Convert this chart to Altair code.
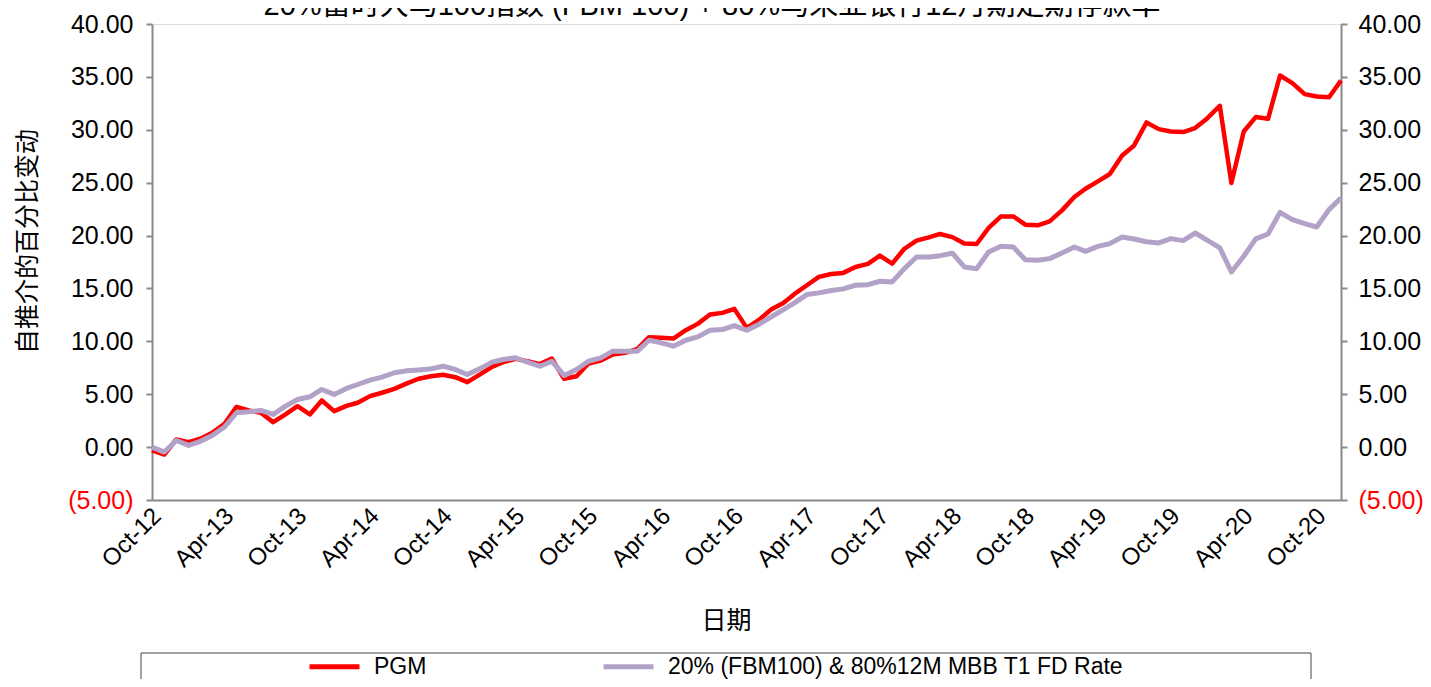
import altair as alt
import pandas as pd

# ---------------- data ----------------
dates = pd.date_range("2012-10-01", periods=99, freq="MS")

pgm = [
    -0.30, -0.70, 0.73, 0.47, 0.82, 1.36, 2.20, 3.80, 3.47, 3.25,
    2.36, 3.09, 3.87, 3.09, 4.41, 3.40, 3.90, 4.19, 4.82, 5.14,
    5.51, 6.00, 6.46, 6.70, 6.84, 6.61, 6.14, 6.86, 7.59, 8.03,
    8.35, 8.12, 7.85, 8.38, 6.46, 6.70, 7.90, 8.19, 8.75, 8.91,
    9.29, 10.39, 10.33, 10.26, 11.05, 11.65, 12.53, 12.69, 13.07, 11.27,
    12.00, 13.00, 13.63, 14.48, 15.30, 16.09, 16.37, 16.47, 17.03, 17.32,
    18.10, 17.35, 18.73, 19.52, 19.83, 20.15, 19.85, 19.24, 19.20, 20.72,
    21.81, 21.81, 21.03, 20.97, 21.34, 22.38, 23.64, 24.43, 25.12, 25.82,
    27.57, 28.52, 30.69, 30.06, 29.84, 29.78, 30.16, 31.10, 32.27, 24.97,
    29.84, 31.20, 31.04, 35.13, 34.41, 33.37, 33.14, 33.08, 34.66,
]

bench = [
    0.00, -0.47, 0.63, 0.16, 0.57, 1.10, 1.90, 3.25, 3.34, 3.47,
    3.09, 3.87, 4.50, 4.76, 5.45, 4.98, 5.55, 5.92, 6.33, 6.61,
    7.03, 7.21, 7.30, 7.40, 7.65, 7.34, 6.86, 7.40, 8.03, 8.28,
    8.44, 8.03, 7.65, 8.12, 6.77, 7.34, 8.12, 8.44, 9.07, 9.07,
    9.07, 10.10, 9.86, 9.54, 10.10, 10.42, 11.05, 11.11, 11.49, 11.05,
    11.60, 12.30, 13.00, 13.63, 14.42, 14.58, 14.80, 14.96, 15.30, 15.36,
    15.68, 15.62, 16.85, 17.98, 17.98, 18.10, 18.33, 17.03, 16.87, 18.45,
    18.98, 18.92, 17.72, 17.66, 17.82, 18.36, 18.92, 18.51, 18.98, 19.24,
    19.87, 19.68, 19.42, 19.30, 19.71, 19.52, 20.24, 19.55, 18.83, 16.56,
    18.04, 19.68, 20.15, 22.19, 21.50, 21.12, 20.81, 22.45, 23.55,
]

series_names = ["PGM", "20% (FBM100) & 80%12M MBB T1 FD Rate"]
series_colors = ["#ff0000", "#b3a2c7"]

y_ticks = [-5, 0, 5, 10, 15, 20, 25, 30, 35, 40]
x_tick_months = [(2012, 10), (2013, 4), (2013, 10), (2014, 4), (2014, 10),
                 (2015, 4), (2015, 10), (2016, 4), (2016, 10), (2017, 4),
                 (2017, 10), (2018, 4), (2018, 10), (2019, 4), (2019, 10),
                 (2020, 4), (2020, 10)]

title_text = "20%富时大马100指数 (FBM 100) + 80%马来亚银行12月期定期存款率"
y_title = "自推介的百分比变动"
x_title = "日期"

# ---------------- build ----------------
df = pd.DataFrame({
    "date": list(dates) * 2,
    "value": pgm + bench,
    "series": [series_names[0]] * len(pgm) + [series_names[1]] * len(bench),
})

LAT = "Liberation Sans, Arial, Noto Sans CJK SC"
CJK = "Noto Sans CJK SC, Liberation Sans"
GREY = "#898989"

W, H = 1189, 476

x_values = [alt.DateTime(year=y, month=m, date=1) for y, m in x_tick_months]
x_scale = alt.Scale(domain=[alt.DateTime(year=2012, month=10, date=1),
                            alt.DateTime(year=2020, month=12, date=1)], nice=False)

y_scale = alt.Scale(domain=[-5, 40], nice=False, zero=False)

label_expr = ("datum.value < 0 ? '(' + format(-datum.value, '.2f') + ')' "
              ": format(datum.value, '.2f')")
label_color = {"condition": {"test": "datum.value < 0", "value": "#ff0000"},
               "value": "#000000"}

left_axis = alt.Axis(
    orient="left", values=y_ticks, labelExpr=label_expr, labelColor=label_color,
    labelFont=LAT, labelFontSize=25, labelPadding=13, tickSize=6, tickWidth=2,
    tickColor=GREY, domainColor=GREY, domainWidth=2, grid=False,
    title=y_title, titleFont=CJK, titleFontSize=25, titleFontWeight="normal",
    titleColor="#000000", titleAngle=270, titleX=-125, titleY=217,
    titleAlign="center", titleBaseline="middle",
)
right_axis = alt.Axis(
    orient="right", values=y_ticks, labelExpr=label_expr, labelColor=label_color,
    labelFont=LAT, labelFontSize=25, labelPadding=11, tickSize=6, tickWidth=2,
    tickColor=GREY, domainColor=GREY, domainWidth=2, grid=False, title=None,
)
x_axis = alt.Axis(
    orient="bottom", values=x_values, format="%b-%y", labelAngle=-45,
    labelAlign="right", labelBaseline="middle", labelFont=LAT, labelFontSize=24,
    labelPadding=12, labelOffset=5, labelOverlap=False, labelColor="#000000",
    ticks=False, domainColor=GREY, domainWidth=2, grid=False,
    title=x_title, titleFont=CJK, titleFontSize=25, titleFontWeight="normal",
    titleColor="#000000", titleX=574, titleY=120, titleAlign="center",
    titleBaseline="middle",
)

color_enc = alt.Color(
    "series:N",
    scale=alt.Scale(domain=series_names, range=series_colors),
    legend=alt.Legend(
        title=None, orient="none", legendX=155, legendY=615, offset=0,
        direction="horizontal", columns=2, columnPadding=166, labelFont=LAT,
        labelFontSize=23, labelOffset=12, labelLimit=700, symbolType="stroke",
        symbolSize=2500, symbolStrokeWidth=5, padding=0,
    ),
)

x_enc = alt.X("date:T", scale=x_scale, axis=x_axis)

red = alt.Chart(df).transform_filter(
    alt.datum.series == series_names[0]
).mark_line(strokeWidth=4.5, strokeJoin="round").encode(
    x=x_enc,
    y=alt.Y("value:Q", scale=y_scale, axis=left_axis),
    color=color_enc,
)

purple = alt.Chart(df).transform_filter(
    alt.datum.series == series_names[1]
).mark_line(strokeWidth=5, strokeJoin="round").encode(
    x=x_enc,
    y=alt.Y("value:Q", scale=y_scale, axis=right_axis),
    color=color_enc,
)

title_layer = alt.Chart(pd.DataFrame({"t": [title_text]})).mark_text(
    font=LAT, fontSize=29, align="center", baseline="alphabetic", color="#000000"
).encode(text="t:N", x=alt.value(560), y=alt.value(-9))

legend_frame = alt.Chart(pd.DataFrame({"k": [0]})).mark_rect(
    fill="#ffffff", fillOpacity=0, stroke="#444444", strokeWidth=1
).encode(x=alt.value(-11), x2=alt.value(1159), y=alt.value(629), y2=alt.value(720))

chart = alt.layer(red, purple, legend_frame, title_layer).resolve_scale(
    y="independent"
).properties(
    width=W, height=H,
    autosize=alt.AutoSizeParams(type="none"),
    padding={"left": 144, "top": 16, "right": 82, "bottom": 179},
).configure_view(strokeWidth=0).configure(background="#ffffff")

chart.save("out.html", embed_options={"renderer": "svg", "actions": False})
